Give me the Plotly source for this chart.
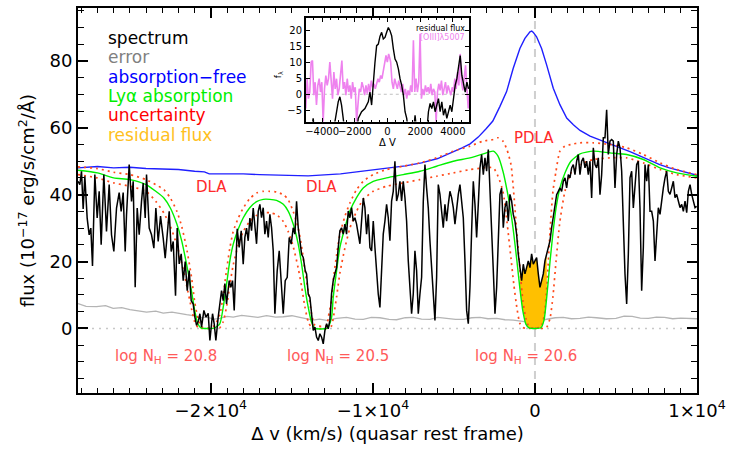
import plotly.graph_objects as go

# ---------------- main spectrum (velocity km/s, flux 1e-17 erg/s/cm2/A) ----------------
spec_v = [-28200, -28087, -27984, -27881, -27778, -27634, -27511, -27408, -27305, -27161, -27017, -26893,
          -26770, -26605, -26441, -26276, -26132, -25988, -25823, -25659, -25535, -25412, -25288, -25206,
          -25041, -24897, -24794, -24671, -24547, -24424, -24280, -24177, -24053, -23971, -23806, -23662,
          -23518, -23395, -23251, -23107, -22942, -22819, -22695, -22572, -22448, -22325, -22181, -22078,
          -21954, -21831, -21707, -21584, -21460, -21337, -21213, -21090, -20987, -20884, -20761, -20678,
          -20575, -20431, -20308, -20164, -20061,
          -19898, -19795, -19692, -19548, -19404, -19342, -19239, -19136, -19034, -18869, -18766, -18663,
          -18560, -18457, -18375, -18252, -18128, -18005, -17902, -17799, -17696, -17593, -17490, -17387,
          -17284, -17181, -17078, -16976, -16873, -16770, -16667, -16564, -16461, -16358, -16255, -16152,
          -16050, -15906, -15782, -15659, -15535, -15412, -15288, -15165, -15041, -14918, -14815, -14712,
          -14609, -14506, -14403, -14300, -14177, -14094, -13991, -13888, -13786, -13683, -13580, -13477,
          -13374, -13271, -13168, -13065, -12962, -12859, -12757,
          -12655, -12552, -12449, -12346, -12243, -12140, -12038, -11935, -11832, -11729, -11626, -11523,
          -11420, -11317, -11214, -11111, -11009, -10906, -10803, -10700, -10597, -10494, -10391, -10288,
          -10185, -10082, -9979, -9876, -9774, -9671, -9568, -9465, -9362, -9259, -9156, -9053,
          -8950, -8847, -8745, -8642, -8539, -8436, -8333, -8230, -8127, -8024, -7921, -7818,
          -7716, -7613, -7510, -7407, -7304, -7201, -7098, -6995, -6892, -6789, -6687, -6584,
          -6481, -6378, -6275, -6172, -6069, -5966, -5863, -5760, -5658, -5555, -5452, -5349,
          -5246, -5143, -5040, -4937, -4834, -4731, -4629, -4526, -4423, -4320, -4217, -4114,
          -4011, -3908, -3805, -3702, -3600, -3497, -3394, -3291, -3188, -3085, -2982, -2879,
          -2776, -2673, -2571, -2468, -2365, -2262,
          -2161, -2058, -1955, -1852, -1749, -1646, -1544, -1441, -1338, -1235, -1132, -1029,
          -926, -823, -720, -618, -515, -412, -309, -206, -103, 0, 103, 206,
          309, 412, 514, 617, 720, 823, 926, 1029, 1132, 1235, 1338, 1441,
          1544, 1646, 1749, 1852, 1955, 2058, 2161, 2264, 2367, 2470, 2573, 2675,
          2778, 2881, 2984, 3087, 3190, 3292, 3395, 3498, 3601, 3704, 3807, 3910,
          4013, 4116, 4218, 4321, 4424, 4527, 4630, 4733, 4836, 4939, 5042, 5145,
          5248, 5351, 5453, 5556, 5659, 5762, 5865, 5968, 6071, 6174, 6277, 6380,
          6482, 6585, 6688, 6791, 6894, 6997, 7100, 7203, 7306, 7409, 7512, 7614,
          7717, 7820, 7923, 8026, 8129, 8232, 8335, 8437, 8540, 8643, 8746, 8849,
          8952, 9055, 9158, 9261, 9364, 9467, 9570, 9673, 9776, 9879, 9982]
spec_f = [44, 43, 47, 35.7, 45.5, 33, 28, 30, 18.7, 46, 33, 41,
          25, 46, 29, 43, 28, 23, 36, 40.6, 35, 40.6, 23, 34,
          49, 38, 44, 12.3, 36, 28, 38, 43.5, 33, 46, 30, 28,
          24, 36, 26, 33.6, 27, 21, 28, 35, 23, 26, 9.8, 30,
          19.3, 22.3, 14.3, 20, 11.3, 17.3, 8.3, 7.3, 3.4, 0.9, 2.4, 4.4,
          0.4, 5.4, 3.4, 4.5, -3.6,
          4.4, 1.4, -3.6, 3.4, 9.3, 11.3, 8.3, 13.4, 7.3, 14.3, 12.3, 14.3,
          5.4, 19.3, 29.8, 24.2, 29.2, 19.2, 27.2, 30, 26.2, 33, 29.2, 36,
          30.1, 25.3, 35, 37.1, 33.1, 36.1, 28.2, 32.1, 27.2, 34.1, 30.1, 23.2,
          4.4, 17.3, 23.2, 13.4, 4.4, 14.3, 15.3, 27.2, 25.2, 30.1, 28.2, 38,
          30.1, 26.2, 22.2, 21.2, 17.3, 16.3, 10.3, 9.3, 3.4, -0.6, 0.4, -2.6,
          -3.6, -1.6, -2.6, -4.6, -0.6, 1.4, -0.1,
          2.4, 10.4, 14.3, 16.4, 18.2, 24.2, 29.2, 30.1, 28.2, 31.2, 28.2, 35.1,
          33.1, 36.1, 32.1, 33.1, 31.2, 28.2, 25.3, 32.1, 39, 36.1, 28.2, 34.1,
          24.2, 23.2, 32.1, 24.2, 16.4, 10.3, 6.3, 20.2, 28.2, 32.1, 37.1, 33.1,
          26.2, 38.1, 41, 50, 38.1, 40.1, 44, 38.1, 44, 39.1, 32.1, 20.2,
          10.3, 4.4, 10.3, 23.2, 17.3, 4.4, 10.3, 15.3, 38, 49, 42, 36.1,
          26.2, 18.2, 10.3, 2.4, 15.3, 43, 40.1, 35.1, 30.1, 37.1, 32.1, 37.1,
          41, 39.1, 36.1, 31.2, 36.1, 40.1, 43, 38.1, 33.1, 20.2, 5.4, 1.4,
          12.3, 29.2, 44, 37.1, 27.2, 37.1, 48, 52, 46, 51, 47, 53.5,
          38.1, 29.2, 17.3, 4.4, 12.3, 29.2,
          40.1, 42, 30.1, 36.1, 38.1, 32.1, 40.1, 38.1, 34.1, 32.1, 28.2, 22.2,
          18.2, 14.3, 19.2, 16.3, 18.2, 20.2, 18.2, 22.3, 19.2, 20.2, 21.2, 16.3,
          12.3, 14.3, 16.3, 20.2, 22.2, 24.2, 26.2, 30.1, 33.1, 36.1, 40, 41,
          42, 41, 44, 45, 42, 46, 45, 48, 49, 46, 50, 52,
          46, 50, 51, 48, 50, 46, 50, 39, 54, 49, 48, 51,
          40, 46, 57, 57, 65.4, 52, 56, 56.5, 56, 42, 52, 56,
          54, 47, 30, 16.3, 7.3, 22.2, 45, 47, 36, 42, 49, 50,
          36.1, 11.3, 24.2, 49, 44, 49, 35, 35, 32.1, 20.2, 28.2, 36.1,
          34.1, 39.1, 42, 45, 47, 41, 40.1, 42, 44, 39.1, 40.1, 38.1,
          36.1, 37.1, 35, 38.1, 34.6, 41, 43, 40.1, 38.1, 36.1, 36.5]

# ---------------- flux error ----------------
err_v = [-28200, -27700, -27058, -26500, -26029, -25500, -24999, -24500, -23971, -23400, -22942, -22400,
         -21913, -21500, -21090, -20680, -20267, -19800, -19445, -19000, -18622, -18100, -17593, -17100,
         -16564, -16000, -15535, -15000, -14506, -14100, -13683, -13300, -12859, -12243, -11626, -11100,
         -10597, -10100, -9568, -9000, -8539, -8000, -7510, -7000, -6481, -6000, -5452, -4900,
         -4423, -3900, -3394, -2900, -2365, -1850, -1336, -800, -307, 200, 720, 1250,
         1749, 2250, 2778, 3300, 3800, 4400, 5000, 5500, 6000, 6500, 7000, 7500,
         8000, 8500, 9000, 9500, 10000]
err_f = [7.4, 6.6, 6.5, 6.8, 6.0, 6.2, 5.6, 5.3, 4.9, 5.2, 4.6, 4.9,
         4.4, 4.1, 3.8, 3.2, 3.4, 2.8, 3.0, 3.6, 3.4, 3.9, 3.6, 3.3,
         3.8, 3.4, 3.5, 3.8, 3.3, 3.0, 2.5, 2.8, 2.4, 3.0, 3.3, 2.8,
         2.7, 3.3, 3.2, 2.7, 2.6, 3.2, 3.3, 2.8, 2.7, 3.3, 3.0, 2.7,
         2.7, 3.2, 3.3, 2.9, 3.0, 2.6, 2.5, 2.2, 1.8, 2.3, 2.8, 3.2,
         3.3, 2.9, 3.0, 3.4, 3.2, 2.9, 3.0, 3.7, 3.6, 3.1, 3.0, 3.4,
         3.3, 2.9, 3.1, 3.0, 2.9]

# ---------------- unabsorbed continuum ----------------
cont_v = [-28200, -27000, -26000, -25000, -24000, -23000, -22000, -21000, -20400, -20100, -19000, -18000,
          -17000, -16000, -15000, -14000, -13000, -12000, -11000, -10000, -9000, -8000, -7000, -6000,
          -5000, -4500, -4000, -3500, -3000, -2600, -2160, -1750, -1340, -930, -620, -310,
          -200, -100, 100, 410, 720, 1130, 1540, 1960, 2370, 2780, 3400, 4000,
          4600, 5250, 5900, 6500, 7100, 7700, 8300, 9000, 9500, 10000]
cont_f = [48.0, 48.4, 48.0, 48.2, 47.8, 47.6, 47.5, 47.0, 46.8, 46.2, 46.3, 46.2,
          46.0, 45.9, 45.8, 45.6, 45.9, 46.2, 46.8, 47.3, 48.0, 48.6, 49.5, 50.8,
          52.8, 54.0, 55.2, 57.2, 59.8, 62.0, 66.4, 70.8, 77.8, 83.7, 86.7, 88.7,
          88.9, 88.5, 87.2, 83.7, 78.8, 71.8, 66.9, 62.9, 60.9, 59.2, 57.5, 56.4,
          55.3, 54.2, 52.8, 51.5, 50.2, 49.0, 48.0, 47.0, 46.4, 45.8]

# ---------------- Lya absorption model with its uncertainty band ----------------
model_v = [-28200, -27000, -26000, -25000, -24000, -23400, -22900, -22500, -22100, -21800, -21500, -21200,
           -21000, -20800, -20600, -20200, -19800, -19450, -19240, -19030, -18830, -18620, -18310, -18000,
           -17600, -17180, -16770, -16360, -15950, -15530, -15230, -14920, -14610, -14400, -14200, -13990,
           -13790, -13580, -12860, -12750, -12550, -12450, -12240, -12040, -11730, -11420, -11010, -10600,
           -9980, -9160, -8130, -7100, -6070, -5040, -4010, -3190, -2570, -2280, -1975, -1730,
           -1480, -1300, -1110, -930, -740, -560, -370, 0, 370, 560, 740, 930,
           1110, 1300, 1540, 1850, 2220, 2780, 3600, 4630, 5660, 6690, 7720, 8750,
           10000]
model_f = [47.3, 46.5, 45.0, 44.5, 43.0, 41.0, 39.0, 36.0, 31.2, 26.2, 19.2, 11.3,
           5.4, 1.4, 0.1, 0.0, 0.1, 1.4, 6.3, 13.3, 20.2, 25.2, 29.7, 33.1,
           36.1, 37.9, 38.6, 38.6, 38.3, 37.1, 35.1, 31.2, 25.2, 19.2, 12.3, 6.3,
           1.9, 0.0, 0.0, 0.5, 3.4, 9.3, 17.3, 24.2, 30.1, 35.1, 39.1, 42.0,
           44.0, 45.0, 46.0, 47.0, 48.5, 50.0, 51.0, 52.2, 53.0, 51.5, 47.0, 41.5,
           34.5, 28.0, 20.0, 12.0, 5.0, 1.3, 0.2, 0.0, 0.2, 2.5, 10.0, 20.0,
           28.5, 36.0, 42.0, 46.5, 50.0, 52.2, 53.0, 52.5, 52.0, 50.5, 48.0, 46.5,
           45.5]
model_hi = [48.3, 47.8, 46.7, 46.0, 44.5, 43.0, 41.5, 39.0, 35.0, 30.5, 24.0, 15.5,
            8.0, 3.0, 0.5, 0.0, 0.8, 4.0, 10.0, 17.5, 24.0, 29.0, 33.0, 36.0,
            38.8, 40.5, 41.0, 41.0, 40.8, 40.0, 38.5, 35.0, 30.0, 24.5, 17.5, 11.0,
            4.5, 1.0, 0.8, 3.5, 8.5, 14.5, 22.0, 28.0, 33.5, 37.5, 41.5, 44.0,
            46.0, 47.5, 48.5, 49.5, 51.0, 53.0, 54.5, 56.0, 56.5, 57.0, 56.0, 53.5,
            49.0, 40.0, 28.0, 18.0, 8.0, 3.0, 0.5, 0.0, 0.5, 3.5, 13.0, 29.0,
            41.0, 47.0, 53.0, 54.5, 55.0, 55.5, 55.5, 55.0, 54.0, 52.0, 49.5, 47.5,
            46.0]
model_lo = [46.0, 45.0, 43.5, 42.5, 41.0, 38.0, 34.5, 30.5, 25.0, 19.5, 13.0, 6.0,
            2.0, 0.3, 0.0, 0.0, 0.0, 0.2, 2.0, 6.5, 13.0, 19.0, 25.0, 29.0,
            32.0, 33.8, 34.6, 34.6, 34.0, 32.0, 29.0, 24.5, 18.0, 12.5, 6.5, 2.0,
            0.3, 0.0, 0.0, 0.0, 0.8, 3.0, 9.5, 16.5, 24.0, 30.0, 35.0, 38.5,
            41.0, 42.5, 43.5, 44.5, 45.5, 46.5, 47.5, 48.0, 48.0, 45.5, 41.0, 32.0,
            21.0, 13.0, 6.0, 1.5, 0.3, 0.0, 0.0, 0.0, 0.0, 0.0, 0.5, 3.0,
            9.5, 20.0, 32.0, 41.0, 46.5, 49.0, 50.5, 51.0, 51.0, 49.5, 47.5, 46.0,
            45.0]

# velocity window of the proximate absorber where residual flux is shaded
pdla_window = (-930, 740)

# ---------------- absorber annotations ----------------
dla_names = ["DLA", "DLA", "PDLA"]
dla_label_v = [-19940, -13150, -60]
dla_label_f = [42.3, 42.3, 56.8]
logNH_text = ["log N<sub>H</sub> = 20.8", "log N<sub>H</sub> = 20.5", "log N<sub>H</sub> = 20.6"]
logNH_v = [-22780, -12160, -570]
logNH_f = -8.5

# ---------------- inset: residual flux vs [OIII] 5007 ----------------
resid_v = [-5000, -4653, -4550, -4448, -3324, -3119, -3017, -2914, -2812, -2710, -2607, -1892,
           -1790, -1585, -1381, -1176, -1074, -972, -869, -767, -665, -562, -460, -358,
           -256, -153, -51, 51, 153, 256, 358, 460, 563, 665, 767, 869,
           971, 1074, 1176, 1278, 1585, 1687, 1790, 2402, 2505, 2607, 2710, 2812,
           2914, 3016, 3119, 3221, 3323, 3426, 3528, 3630, 3733, 3835, 3937, 4040,
           4142, 4244, 4346, 4448, 4551, 4653, 4755, 4858, 4960]
resid_f = [-12, -12, -7.6, -12, -12, -4.5, -2.4, -0.8, -3.4, -7.6, -12, -12,
           -7.6, -5.5, -4.5, -2.4, 0.7, -3.4, 4.9, 10, 15.3, 15.8, 18.2, 19.5,
           17.4, 17.9, 19.5, 21, 20, 18.4, 14.3, 11.1, 10.1, 8, 4.9, 2.8,
           -0.3, -5.5, -7.6, -12, -12, -6.6, -12, -12, -5.5, -2.9, -4.5, -2.4,
           -5.5, -3.4, -1.4, -5.5, -2.4, -6.6, -4.5, -7.6, -5.5, -3.4, -5.5, -1.4,
           2.8, 4.9, 8, 12.2, 5.9, 2.8, 0.7, 3.8, 1.7]

oiii_v = [-5000, -4918, -4837, -4755, -4673, -4591, -4509, -4428, -4346, -4264, -4182, -4100,
          -4019, -3937, -3855, -3773, -3691, -3610, -3528, -3446, -3364, -3282, -3201, -3119,
          -3037, -2955, -2873, -2792, -2710, -2628, -2546, -2464, -2383, -2301, -2219, -2137,
          -2055, -1974, -1892, -1810, -1728, -1646, -1565, -1483, -1401, -1319, -1237, -1156,
          -1074, -992, -910, -828, -747, -665, -583, -501, -419, -338, -256, -174,
          -92, -10, 71, 153, 194, 276, 358, 440, 522, 603, 685, 767,
          849, 931, 1012, 1094, 1176, 1258, 1340, 1421, 1503, 1585, 1667, 1749,
          1830, 1912, 1994, 2076, 2158, 2239, 2321, 2403, 2485, 2567, 2648, 2730,
          2812, 2894, 2976, 3058, 3139, 3221, 3303, 3385, 3466, 3548, 3630, 3712,
          3794, 3876, 3957, 4039, 4121, 4203, 4285, 4367, 4448, 4530, 4612, 4694,
          4776, 4858, 4940, 4980]
oiii_f = [-4.5, 4.9, -1.4, 0.7, 10.1, 10.6, -0.3, 3.8, -3.4, 2.8, 4.9, 0.7,
          3.8, -8.7, 1.7, 5.9, 2.8, 4.9, 10.1, 3.8, -1.4, 7.0, 1.7, 4.9,
          -0.3, 1.7, 5.9, 10.6, 1.7, 3.8, -0.3, 4.9, 0.7, 2.8, -1.4, 3.8,
          0.7, 2.2, -8.7, -2.4, 1.7, 0.7, 3.8, 2.2, -0.3, 2.8, 0.2, 3.3,
          0.7, 4.3, 2.2, 3.3, 1.7, 3.3, 4.9, 3.8, 5.9, 4.9, 7.0, 9.1,
          12.2, 10.1, 12.7, 11.1, 10.1, 3.8, 1.7, 4.9, 3.3, 1.7, 4.3, 2.2,
          0.7, 3.3, -0.3, 1.7, -1.4, 1.2, -0.3, 2.8, 0.7, 17.0, 0.7, 4.9,
          0.7, 3.8, 19.0, -1.4, 1.7, -0.3, 2.8, 0.7, 2.2, 0.2, 3.3, -0.3,
          1.7, 0.7, -8.7, 0.7, 3.3, 1.2, 4.3, -0.3, 1.7, 3.8, 0.2, 2.8,
          1.2, -0.3, 2.2, 0.7, 4.9, 1.7, 7.0, 2.8, 12.7, 3.8, 1.2, 4.9,
          9.1, 1.7, -4.5, -0.3]

# ---------------- styling ----------------
FONT = "DejaVu Sans"
BLACK = "#000000"
GREY_ERR = "#b4b4b4"
BLUE = "#1f1fff"
GREEN = "#00f000"
RED_DOT = "#ff4a1a"
GOLD = "#ffc000"
VIOLET = "#ee82ee"

X_RANGE = [-28200, 10000]
Y_RANGE = [-19.3, 95.8]

fig = go.Figure()

# zero-flux reference and systemic-velocity marker
fig.add_trace(go.Scatter(x=X_RANGE, y=[0, 0], mode="lines",
                         line=dict(color="#c8c8c8", width=1.5, dash="2px,5px"), hoverinfo="skip"))
fig.add_trace(go.Scatter(x=[0, 0], y=Y_RANGE, mode="lines",
                         line=dict(color="#cfcfcf", width=2, dash="8px,6px"), hoverinfo="skip"))

# error spectrum
fig.add_trace(go.Scatter(x=err_v, y=err_f, mode="lines", line=dict(color=GREY_ERR, width=1.3)))

# residual flux in the PDLA trough (spectrum above the model)
win_mv = [v for v in model_v if pdla_window[0] <= v <= pdla_window[1]]
win_mf = [f for v, f in zip(model_v, model_f) if pdla_window[0] <= v <= pdla_window[1]]
win_sv = [v for v in spec_v if pdla_window[0] <= v <= pdla_window[1]]
win_sf = [f for v, f in zip(spec_v, spec_f) if pdla_window[0] <= v <= pdla_window[1]]
fig.add_trace(go.Scatter(x=win_mv, y=win_mf, mode="lines", line=dict(width=0), hoverinfo="skip"))
fig.add_trace(go.Scatter(x=win_sv, y=win_sf, mode="lines", line=dict(width=0),
                         fill="tonexty", fillcolor=GOLD, hoverinfo="skip"))

# continuum
fig.add_trace(go.Scatter(x=cont_v, y=cont_f, mode="lines", line=dict(color=BLUE, width=1.4)))

# model uncertainty
for band in (model_hi, model_lo):
    fig.add_trace(go.Scatter(x=model_v, y=band, mode="lines", line_shape="spline",
                             line=dict(color=RED_DOT, width=1.7, dash="2px,4px", smoothing=0.6)))
# absorption model
fig.add_trace(go.Scatter(x=model_v, y=model_f, mode="lines", line_shape="spline",
                         line=dict(color=GREEN, width=1.4, smoothing=0.6)))

# observed spectrum
fig.add_trace(go.Scatter(x=spec_v, y=spec_f, mode="lines", line=dict(color=BLACK, width=1.5)))

# ---------------- inset traces ----------------
fig.add_trace(go.Scatter(x=[-5000, 5000], y=[0, 0], mode="lines", xaxis="x2", yaxis="y2",
                         line=dict(color="#c0c0c0", width=1, dash="3px,3px")))
fig.add_trace(go.Scatter(x=oiii_v, y=oiii_f, mode="lines", xaxis="x2", yaxis="y2",
                         line=dict(color=VIOLET, width=1.6)))
fig.add_trace(go.Scatter(x=resid_v, y=resid_f, mode="lines", xaxis="x2", yaxis="y2",
                         line=dict(color=BLACK, width=1.4)))

# ---------------- axes ----------------
tick_font = dict(family=FONT, size=18, color=BLACK)
fig.update_layout(
    width=748, height=449, autosize=False,
    margin=dict(l=78, r=51, t=6, b=56),
    paper_bgcolor="white", plot_bgcolor="white",
    showlegend=False,
    font=dict(family=FONT, color=BLACK),
    xaxis=dict(
        domain=[0, 1], range=X_RANGE, showgrid=False, zeroline=False,
        showline=True, linecolor=BLACK, linewidth=2, mirror="allticks",
        ticks="inside", ticklen=10, tickwidth=1.5, tickcolor=BLACK,
        tickmode="array", tickvals=[-20000, -10000, 0, 10000],
        ticktext=["\u22122\u00d710<sup>4</sup>", "\u22121\u00d710<sup>4</sup>", "0", "1\u00d710<sup>4</sup>"],
        tickfont=tick_font, tickangle=0,
        minor=dict(ticks="inside", ticklen=5, tickwidth=1, tickcolor=BLACK, tickmode="linear",
                   tick0=0, dtick=1000, showgrid=False),
        title=dict(text="\u0394 v (km/s) (quasar rest frame)", font=dict(family=FONT, size=18), standoff=8),
    ),
    yaxis=dict(
        domain=[0, 1], range=Y_RANGE, showgrid=False, zeroline=False,
        showline=True, linecolor=BLACK, linewidth=2, mirror="allticks",
        ticks="inside", ticklen=10, tickwidth=1.5, tickcolor=BLACK,
        tickmode="linear", tick0=0, dtick=20, tickfont=tick_font,
        minor=dict(ticks="inside", ticklen=6, tickwidth=1, tickcolor=BLACK, dtick=5, tick0=0,
                   showgrid=False),
        title=dict(text="flux (10<sup>\u221217</sup> erg/s/cm<sup>2</sup>/\u00c5)",
                   font=dict(family=FONT, size=18), standoff=10),
    ),
    xaxis2=dict(
        domain=[0.368, 0.632], anchor="y2", range=[-5000, 5000], showgrid=False, zeroline=False,
        showline=True, linecolor=BLACK, linewidth=1.5, mirror="allticks",
        ticks="inside", ticklen=4, tickwidth=1, tickcolor=BLACK,
        tickmode="linear", tick0=0, dtick=2000, tickangle=0,
        tickfont=dict(family=FONT, size=10),
        minor=dict(ticks="inside", ticklen=2, tickwidth=1, tickcolor=BLACK, dtick=500, tick0=0),
        title=dict(text="\u0394 V", font=dict(family=FONT, size=10), standoff=1),
    ),
    yaxis2=dict(
        domain=[0.705, 0.974], anchor="x2", range=[-8.6, 24], showgrid=False, zeroline=False,
        showline=True, linecolor=BLACK, linewidth=1.5, mirror="allticks",
        ticks="inside", ticklen=4, tickwidth=1, tickcolor=BLACK,
        tickmode="linear", tick0=0, dtick=5, tickfont=dict(family=FONT, size=10),
    ),
)

# ---------------- text: key ----------------
key_items = [("spectrum", BLACK), ("error", "#808080"), ("absorption\u2212free", "#0000ff"),
             ("Ly\u03b1 absorption", "#00ee00"), ("uncertainty", "#ff0000"), ("residual flux", "#ffc020")]
key_top = 0.9225
key_step = 0.0504
for i, (txt, col) in enumerate(key_items):
    fig.add_annotation(xref="paper", yref="paper", x=0.046, y=key_top - i * key_step,
                       text=txt, showarrow=False, xanchor="left", yanchor="middle",
                       font=dict(family=FONT, size=17, color=col))

# absorber labels
for name, v, f in zip(dla_names, dla_label_v, dla_label_f):
    fig.add_annotation(x=v, y=f, xref="x", yref="y", text=name, showarrow=False,
                       font=dict(family=FONT, size=15, color="#ff2a2a"))
for txt, v in zip(logNH_text, logNH_v):
    fig.add_annotation(x=v, y=logNH_f, xref="x", yref="y", text=txt, showarrow=False,
                       font=dict(family=FONT, size=15, color="#ff5a5a"))

# inset key and label
fig.add_annotation(xref="x2", yref="y2", x=4850, y=20.7, text="residual flux", showarrow=False,
                   xanchor="right", height=9, font=dict(family=FONT, size=8, color=BLACK))
fig.add_annotation(xref="x2", yref="y2", x=4850, y=18.0, text="[OIII]\u03bb5007", showarrow=False,
                   xanchor="right", height=9, font=dict(family=FONT, size=8, color=VIOLET))
fig.add_annotation(xref="paper", yref="paper", x=(278 - 78) / 619, y=(393 - 68) / 387,
                   text="f<sub>\u03bb</sub>", showarrow=False, textangle=-90, xanchor="center",
                   font=dict(family=FONT, size=9, color=BLACK))

fig.write_html("out.html")
